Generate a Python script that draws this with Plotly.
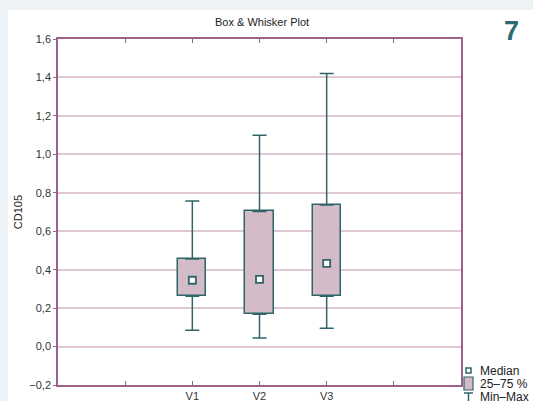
import plotly.graph_objects as go

categories = ["V1", "V2", "V3"]
positions = [2, 3, 4]
mins = [0.085, 0.045, 0.095]
q1s = [0.262, 0.168, 0.262]
medians = [0.345, 0.349, 0.433]
q3s = [0.456, 0.703, 0.737]
maxs = [0.757, 1.099, 1.42]
y_ticks = [-0.2, 0.0, 0.2, 0.4, 0.6, 0.8, 1.0, 1.2, 1.4, 1.6]

TEAL = "#2f6569"
FILL = "#d3bcc7"
FRAME = "#9d5f8c"
GRID = "#dfc8d2"
FONT = "Liberation Sans, Arial, sans-serif"

fig = go.Figure()

# Boxes (25-75 %)
fig.add_trace(go.Bar(
    x=positions, y=[q3 - q1 for q1, q3 in zip(q1s, q3s)], base=q1s,
    width=0.42, marker=dict(color=FILL, line=dict(color=TEAL, width=1.5)),
    showlegend=False, hoverinfo="skip"))

# Upper whiskers
fig.add_trace(go.Scatter(
    x=positions, y=q3s, mode="markers", marker=dict(size=1, opacity=0),
    error_y=dict(type="data", symmetric=False,
                 array=[mx - q3 for mx, q3 in zip(maxs, q3s)],
                 arrayminus=[0, 0, 0], color=TEAL, thickness=1.5, width=7),
    showlegend=False, hoverinfo="skip"))
# Lower whiskers
fig.add_trace(go.Scatter(
    x=positions, y=q1s, mode="markers", marker=dict(size=1, opacity=0),
    error_y=dict(type="data", symmetric=False,
                 array=[0, 0, 0],
                 arrayminus=[q1 - mn for mn, q1 in zip(mins, q1s)],
                 color=TEAL, thickness=1.5, width=7),
    showlegend=False, hoverinfo="skip"))

# Medians
fig.add_trace(go.Scatter(
    x=positions, y=medians, mode="markers",
    marker=dict(symbol="square", size=7, color="white",
                line=dict(color=TEAL, width=1.8)),
    showlegend=False))

W, H = 533, 401
L, R, T, B = 58, 72, 39, 16
pw, ph = W - L - R, H - T - B

def px(x):
    return (x - L) / pw

def py(y):
    return (H - B - y) / ph

shapes = [
    dict(type="rect", xref="paper", yref="paper", x0=px(8), x1=px(600),
         y0=py(500), y1=py(10), fillcolor="white", line=dict(width=0),
         layer="below"),
]
# legend symbols
shapes += [
    dict(type="rect", xref="paper", yref="paper", x0=px(466), x1=px(471),
         y0=py(373), y1=py(368), fillcolor="white",
         line=dict(color=TEAL, width=1.5)),
    dict(type="rect", xref="paper", yref="paper", x0=px(464), x1=px(473),
         y0=py(390), y1=py(377), fillcolor=FILL,
         line=dict(color=TEAL, width=1.2)),
    dict(type="line", xref="paper", yref="paper", x0=px(464), x1=px(473),
         y0=py(393), y1=py(393), line=dict(color=TEAL, width=1.5)),
    dict(type="line", xref="paper", yref="paper", x0=px(468.5), x1=px(468.5),
         y0=py(393), y1=py(405), line=dict(color=TEAL, width=1.5)),
]

LEG_FONT = dict(size=12, color="#222", family=FONT)
annotations = [
    dict(text="Box & Whisker Plot", xref="paper", yref="paper", x=px(262),
         y=py(22), yanchor="middle", showarrow=False,
         font=dict(size=11, color="#222", family=FONT)),
    dict(text="<b>7</b>", xref="paper", yref="paper", x=px(521), y=py(31),
         yanchor="middle", showarrow=False,
         font=dict(size=27, color="#2b6a70", family=FONT)),
    dict(text="Median", xref="paper", yref="paper", x=px(478), y=py(370.5),
         xanchor="left", yanchor="middle", showarrow=False, font=LEG_FONT),
    dict(text="25–75 %", xref="paper", yref="paper", x=px(478), y=py(383.5),
         xanchor="left", yanchor="middle", showarrow=False, font=LEG_FONT),
    dict(text="Min–Max", xref="paper", yref="paper", x=px(478), y=py(397),
         xanchor="left", yanchor="middle", showarrow=False, font=LEG_FONT),
]

fig.update_layout(
    width=W, height=H,
    margin=dict(l=L, r=R, t=T, b=B, autoexpand=False),
    paper_bgcolor="#edf2f6", plot_bgcolor="rgba(0,0,0,0)",
    separators=", ",
    font=dict(family=FONT, size=11, color="#333"),
    shapes=shapes, annotations=annotations,
    xaxis=dict(range=[0, 6], tickvals=[1, 2, 3, 4, 5],
               ticktext=[""] + categories + [""], automargin=False,
               ticks="inside", ticklen=4, tickwidth=1, tickcolor=FRAME,
               showline=True, linecolor=FRAME, linewidth=1.5, mirror="ticks",
               showgrid=False, zeroline=False,
               tickfont=dict(size=11, color="#333")),
    yaxis=dict(range=[-0.2, 1.6], tickvals=y_ticks, tickformat=".1f",
               automargin=False,
               ticks="outside", ticklen=3, tickcolor=FRAME,
               showline=True, linecolor=FRAME, linewidth=1.5, mirror=True,
               showgrid=True, gridcolor=GRID, gridwidth=1.5, zeroline=False,
               title=dict(text="CD105", standoff=4, font=dict(size=11, color="#222")),
               tickfont=dict(size=11, color="#333")),
    bargap=0,
)

fig.write_html(
    "out.html",
    config={"displayModeBar": False},
    post_script="document.body.style.margin='0';document.body.style.overflow='hidden';"
                "document.body.style.background='#edf2f6';",
)
